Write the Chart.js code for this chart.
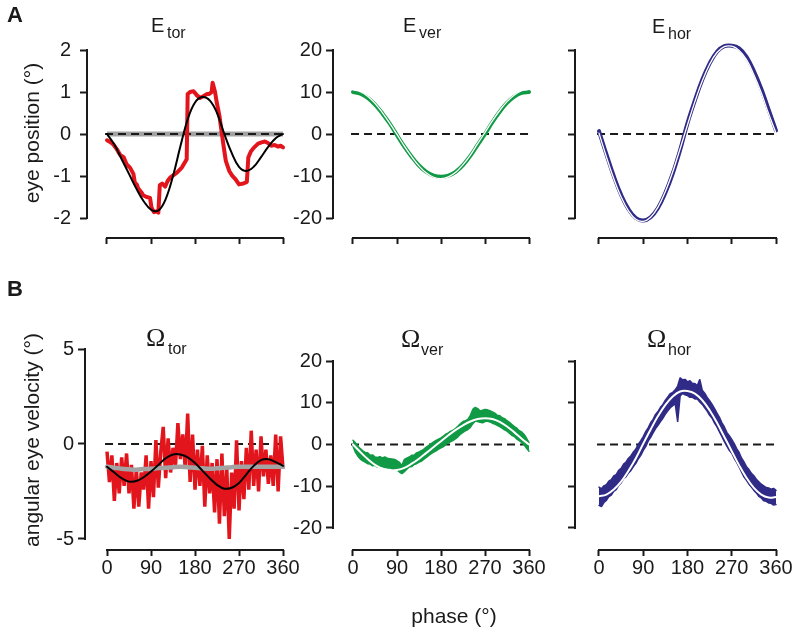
<!DOCTYPE html>
<html>
<head>
<meta charset="utf-8">
<script src="https://cdn.jsdelivr.net/npm/chart.js@4.4.1/dist/chart.umd.min.js"></script>
<style>
  body { margin: 0; background: #fff; }
  #fig { position: relative; width: 797px; height: 633px; overflow: hidden; font-family: "Liberation Sans", Arial, sans-serif; color: #1a1a1a; }
  #fig canvas { position: absolute; left: 0; top: 0; }
  .txt { position: absolute; line-height: 1; white-space: nowrap; }
</style>
</head>
<body>
<div id="fig"></div>
<script>
// ---- data ----
const xTicks = [0, 90, 180, 270, 360];
const zeroPhase = [-4, 366];
const zeroLine = [0, 0];
const grayPhase = [0, 360];
const grayA = [0, 0];

const fitPhase = [0, 15, 30, 45, 60, 75, 90, 105, 120, 135, 150, 165, 180, 195, 210, 225, 240, 255, 270, 285, 300, 315, 330, 345, 360];
const noisePhase = [0, 5, 10, 15, 20, 25, 30, 35, 40, 45, 50, 55, 60, 65, 70, 75, 80, 85, 90, 95, 100, 105, 110, 115, 120, 125, 130, 135, 140, 145, 150, 155, 160, 165, 170, 175, 180, 185, 190, 195, 200, 205, 210, 215, 220, 225, 230, 235, 240, 245, 250, 255, 260, 265, 270, 275, 280, 285, 290, 295, 300, 305, 310, 315, 320, 325, 330, 335, 340, 345, 350, 355, 360];

// A: eye position
const eTorPhase = [0, 8, 13, 20, 27, 34, 40, 47, 54, 57, 61, 64, 71, 74, 81, 88, 91, 96, 101, 105, 108, 113, 119, 124, 129, 136, 143, 148, 153, 160, 163, 165, 170, 177, 184, 190, 197, 204, 209, 214, 216, 221, 224, 230, 235, 239, 243, 250, 256, 263, 270, 279, 286, 289, 294, 300, 309, 316, 323, 330, 336, 343, 350, 355, 360];
const eTor = [-0.15, -0.2, -0.25, -0.36, -0.5, -0.55, -0.72, -0.8, -0.95, -1.16, -1.2, -1.3, -1.4, -1.46, -1.5, -1.52, -1.75, -1.86, -1.84, -1.87, -1.22, -1.18, -1.25, -1.12, -1.04, -0.98, -0.92, -0.86, -0.8, -0.66, -0.6, 0.95, 1.0, 1.02, 0.92, 0.86, 0.9, 0.95, 0.95, 1.0, 1.22, 1.0, 0.78, 0.43, 0.0, -0.33, -0.64, -0.88, -0.99, -1.08, -1.2, -1.18, -1.14, -0.56, -0.42, -0.33, -0.23, -0.2, -0.18, -0.22, -0.28, -0.26, -0.3, -0.28, -0.32];
const eTorFit = [0, -0.25, -0.6, -0.95, -1.3, -1.6, -1.8, -1.82, -1.55, -1.0, -0.3, 0.35, 0.75, 0.88, 0.8, 0.5, 0.0, -0.45, -0.78, -0.88, -0.78, -0.55, -0.3, -0.1, 0];
const eVer = [10.0, 9.6, 8.6, 7.0, 4.9, 2.5, -0.3, -3.0, -5.4, -7.5, -9.0, -9.9, -10.2, -9.9, -9.0, -7.4, -5.2, -2.6, 0.0, 2.8, 5.3, 7.4, 8.9, 9.8, 10.0];
const eVerFit = [10.5, 10.1, 9.0, 7.3, 5.1, 2.6, -0.1, -2.9, -5.4, -7.6, -9.3, -10.3, -10.6, -10.2, -9.1, -7.3, -5.0, -2.3, 0.4, 3.1, 5.6, 7.7, 9.3, 10.3, 10.6];
const eHor = [0.7, -4.8, -10.0, -14.5, -17.9, -20.0, -20.6, -19.8, -17.6, -14.0, -9.4, -3.8, 2.6, 8.0, 12.9, 16.8, 19.6, 20.9, 21.0, 20.4, 18.4, 15.0, 10.8, 5.8, 0.8];
const eHorFit = [0.2, -5.4, -10.6, -15.0, -18.3, -20.3, -20.8, -19.8, -17.4, -13.7, -9.0, -3.5, 2.2, 7.7, 12.6, 16.6, 19.4, 20.8, 20.9, 19.9, 17.7, 14.1, 9.8, 4.8, 0.2];

// B: angular eye velocity
const wTor = [-0.4, -2.0, -0.6, -3.0, -1.0, -2.6, -0.7, -2.2, -0.5, -2.6, -1.1, -3.4, -1.3, -3.3, -1.5, -2.4, -0.6, -3.4, -0.9, -2.8, 0.2, -2.3, -0.4, 0.9, -1.8, 0.3, -1.5, -0.2, -1.2, 1.1, -0.8, 0.5, -1.3, 1.6, -2.0, 0.5, -2.4, -0.3, -2.2, -0.1, -3.3, -0.6, -2.6, -1.0, -3.6, -0.8, -4.2, -0.5, -3.8, -1.3, -5.0, -1.5, -3.4, 0.2, -3.5, -0.9, -2.9, -0.2, -2.4, 0.7, -2.2, -0.3, -2.5, 0.4, -1.7, -0.3, -2.1, -0.6, -2.2, 0.5, -2.5, 0.4, -1.3];
const wTorGray = [-1.2, -1.25, -1.3, -1.33, -1.35, -1.32, -1.3, -1.27, -1.25, -1.22, -1.2, -1.22, -1.25, -1.28, -1.3, -1.28, -1.25, -1.22, -1.2, -1.2, -1.2, -1.2, -1.2, -1.2, -1.2];
const wTorFit = [-1.2, -1.5, -1.8, -1.98, -1.95, -1.75, -1.45, -1.1, -0.75, -0.55, -0.55, -0.7, -1.0, -1.4, -1.8, -2.15, -2.35, -2.3, -2.05, -1.6, -1.15, -0.85, -0.8, -0.95, -1.15];
// vertical and horizontal velocity: upper and lower edge of the noisy trace
const wVerHi = [1.0, 0.4, -0.4, -1.0, -1.5, -1.9, -2.0, -2.6, -2.5, -3.0, -3.1, -2.9, -3.2, -3.0, -3.3, -3.4, -3.5, -3.6, -3.9, -4.3, -5.0, -3.6, -3.3, -3.0, -2.6, -2.6, -2.0, -1.8, -1.5, -1.1, -0.6, -0.2, 0.2, 0.6, 1.0, 1.3, 1.6, 2.0, 2.5, 2.8, 3.2, 3.4, 3.9, 4.4, 5.0, 5.5, 5.7, 6.0, 7.0, 8.4, 8.9, 8.6, 8.0, 8.2, 8.4, 8.3, 8.1, 7.8, 7.5, 7.0, 6.9, 6.4, 6.2, 5.7, 5.3, 4.8, 4.3, 3.9, 3.3, 3.0, 2.4, 1.5, 0.4];
const wVerLo = [-0.4, -1.9, -2.8, -3.5, -3.9, -4.2, -4.6, -4.7, -5.1, -5.0, -5.4, -5.5, -5.3, -5.5, -5.6, -5.6, -5.8, -6.0, -6.1, -6.6, -7.0, -6.5, -5.9, -5.4, -5.3, -4.8, -4.6, -4.2, -4.0, -3.5, -3.1, -2.6, -2.2, -1.8, -1.5, -1.1, -0.8, -0.5, 0.0, 0.4, 0.7, 1.0, 1.4, 1.9, 2.5, 2.9, 3.3, 3.6, 4.1, 5.0, 5.6, 5.5, 5.3, 5.2, 5.5, 5.6, 5.4, 5.1, 4.9, 4.6, 4.3, 3.9, 3.5, 3.2, 2.7, 2.2, 1.9, 1.3, 0.9, 0.5, -0.1, -0.9, -1.6];
const wVerFit = [0, -1.8, -3.5, -4.9, -5.8, -6.2, -6.1, -5.6, -4.6, -3.4, -2.0, -0.6, 0.8, 2.2, 3.5, 4.6, 5.5, 6.1, 6.3, 6.1, 5.4, 4.3, 2.9, 1.4, 0];
const wHorHi = [-10.2, -10.6, -9.9, -9.6, -8.8, -8.4, -7.5, -7.2, -6.2, -5.7, -4.7, -4.2, -3.3, -2.7, -1.8, -1.1, 0.1, 0.9, 1.9, 3.1, 4.0, 5.2, 6.0, 7.2, 7.9, 8.9, 9.6, 10.6, 11.4, 12.2, 12.5, 13.1, 14.0, 16.0, 15.5, 15.6, 15.0, 15.3, 14.6, 14.6, 14.1, 15.6, 13.0, 12.3, 11.3, 10.5, 9.6, 8.6, 7.5, 6.5, 5.2, 4.2, 2.9, 2.1, 1.2, 0.2, -1.0, -1.9, -3.3, -4.2, -5.3, -6.0, -6.9, -7.5, -8.3, -8.9, -9.5, -9.9, -10.3, -10.4, -10.7, -10.5, -11.0];
const wHorLo = [-14.6, -14.9, -13.9, -13.4, -12.5, -12.1, -11.2, -10.8, -9.8, -9.2, -8.2, -7.7, -6.8, -6.2, -5.3, -4.5, -3.4, -2.6, -1.4, -0.5, 0.8, 1.7, 2.8, 3.8, 4.6, 5.5, 6.3, 7.3, 8.1, 8.8, 9.3, 9.8, 5.4, 11.6, 12.2, 11.9, 11.7, 11.3, 11.3, 10.9, 10.9, 10.2, 9.6, 8.8, 8.0, 7.0, 6.3, 5.1, 4.2, 3.0, 1.9, 0.7, -0.4, -1.4, -2.1, -3.3, -4.3, -5.4, -6.6, -7.8, -8.6, -9.5, -10.2, -11.0, -11.6, -12.4, -12.8, -13.5, -13.6, -14.0, -14.1, -14.5, -14.4];
const wHorFit = [-12.4, -12.0, -10.8, -8.9, -6.3, -3.3, 0.2, 3.6, 6.8, 9.5, 11.5, 12.7, 12.8, 12.2, 10.6, 8.2, 5.2, 1.8, -1.6, -5.0, -8.0, -10.4, -12.0, -12.7, -12.6];

const yTicksAtor = [2, 1, 0, -1, -2];
const yTicks20 = [20, 10, 0, -10, -20];
const yTicksBtor = [5, 0, -5];

const RED = '#e2151d', GREEN = '#119a45', NAVY = '#2f2b87', GRAY = '#a3a3a3', INK = '#1a1a1a';
const W = 797, H = 633;

function pts(xs, ys) { return xs.map((x, i) => ({x: x, y: ys[i]})); }

function line(xs, ys, color, width, extra) {
  return Object.assign({
    data: pts(xs, ys), borderColor: color, borderWidth: width, pointRadius: 0,
    borderJoinStyle: 'round', borderCapStyle: 'round', tension: 0, fill: false, clip: 10
  }, extra || {});
}
function noisy(xs, ys, color, width) { return line(xs, ys, color, width, {borderJoinStyle: 'bevel', borderCapStyle: 'butt'}); }
// noisy band: upper edge filled down to the lower edge
function band(xs, hi, lo, color) {
  return [
    line(xs, hi, color, 1.5, {borderJoinStyle: 'bevel', fill: '+1', backgroundColor: color}),
    line(xs, lo, color, 1.5, {borderJoinStyle: 'bevel'})
  ];
}
function zero() { return line(zeroPhase, zeroLine, INK, 2, {borderDash: [8, 5], borderCapStyle: 'butt'}); }

// axis lines only from first to last tick (offset-axis look)
const axisLines = {
  id: 'axisLines',
  afterDraw(chart, args, opts) {
    const {ctx, chartArea, scales} = chart;
    ctx.save();
    ctx.strokeStyle = INK;
    ctx.lineWidth = 2;
    ctx.beginPath();
    ctx.moveTo(scales.x.getPixelForValue(xTicks[0]) - 1, chartArea.bottom);
    ctx.lineTo(scales.x.getPixelForValue(xTicks[xTicks.length - 1]) + 1, chartArea.bottom);
    ctx.moveTo(chartArea.left, scales.y.getPixelForValue(opts.yTicks[0]) - 1);
    ctx.lineTo(chartArea.left, scales.y.getPixelForValue(opts.yTicks[opts.yTicks.length - 1]) + 1);
    ctx.stroke();
    ctx.restore();
  }
};

function panel(p) {
  const cv = document.createElement('canvas');
  cv.width = W; cv.height = H;
  document.getElementById('fig').appendChild(cv);
  const tickFont = {family: '"Liberation Sans", Arial, sans-serif', size: 20};
  new Chart(cv, {
    type: 'line',
    data: {datasets: p.datasets},
    options: {
      responsive: false, animation: false, events: [],
      layout: {padding: {left: 0, top: p.top, right: W - p.right, bottom: 0}},
      plugins: {legend: {display: false}, tooltip: {enabled: false}, axisLines: {yTicks: p.yTicks}},
      scales: {
        x: {
          type: 'linear', min: p.xMin, max: p.xMax,
          afterBuildTicks: s => { s.ticks = xTicks.map(v => ({value: v})); },
          afterFit: s => { s.height = H - p.bottom; },
          border: {display: false},
          grid: {drawOnChartArea: false, drawTicks: true, tickLength: 6, tickWidth: 2, tickColor: INK},
          ticks: {display: p.xLabels, autoSkip: false, maxRotation: 0, minRotation: 0, padding: 0,
                  font: tickFont, color: INK, callback: v => String(v)}
        },
        y: {
          type: 'linear', min: p.yMin, max: p.yMax,
          afterBuildTicks: s => { s.ticks = p.yTicks.map(v => ({value: v})); },
          afterFit: s => { s.width = p.left; },
          border: {display: false},
          grid: {drawOnChartArea: false, drawTicks: true, tickLength: 7, tickWidth: 2, tickColor: INK},
          ticks: {display: p.yLabels, autoSkip: false, padding: p.yPad, font: tickFont, color: INK, callback: v => String(v)}
        }
      }
    },
    plugins: [axisLines]
  });
}

// A row
panel({left: 87, top: 50, right: 295, bottom: 238, xMin: -40.9, xMax: 384.5, yMin: -2.476, yMax: 2,
  yTicks: yTicksAtor, yLabels: true, xLabels: false, yPad: 9,
  datasets: [
    line(fitPhase, eTorFit, '#000', 2, {tension: 0.4}),
    line(eTorPhase, eTor, RED, 4),
    zero(),
    line(grayPhase, grayA, GRAY, 5, {borderCapStyle: 'butt'})
  ]});
panel({left: 333, top: 50, right: 541, bottom: 238, xMin: -40.9, xMax: 384.5, yMin: -24.76, yMax: 20,
  yTicks: yTicks20, yLabels: true, xLabels: false, yPad: 4,
  datasets: [
    line(fitPhase, eVerFit, '#ffffff', 1.3, {tension: 0.4}),
    line(fitPhase, eVer, GREEN, 4, {tension: 0.4}),
    zero()
  ]});
panel({left: 575, top: 50, right: 785, bottom: 238, xMin: -48.8, xMax: 378.3, yMin: -24.76, yMax: 20,
  yTicks: yTicks20, yLabels: false, xLabels: false, yPad: 4,
  datasets: [
    line(fitPhase, eHorFit, '#ffffff', 1.3, {tension: 0.4}),
    line(fitPhase, eHor, NAVY, 4, {tension: 0.4}),
    zero()
  ]});

// B row
panel({left: 85, top: 349, right: 295, bottom: 550, xMin: -45, xMax: 384.5, yMin: -5.579, yMax: 5,
  yTicks: yTicksBtor, yLabels: true, xLabels: true, yPad: 4,
  datasets: [
    line(fitPhase, wTorFit, '#000', 2, {tension: 0.4}),
    line(fitPhase, wTorGray, GRAY, 4.5, {tension: 0.4}),
    noisy(noisePhase, wTor, RED, 3.5),
    zero()
  ]});
panel({left: 333, top: 361, right: 541, bottom: 550, xMin: -40.9, xMax: 384.5, yMin: -25.27, yMax: 20,
  yTicks: yTicks20, yLabels: true, xLabels: true, yPad: 4,
  datasets: [line(fitPhase, wVerFit, '#ffffff', 2, {tension: 0.4})]
    .concat(band(noisePhase, wVerHi, wVerLo, GREEN), [zero()])
});
panel({left: 575, top: 361, right: 785, bottom: 550, xMin: -48.8, xMax: 378.3, yMin: -25.27, yMax: 20,
  yTicks: yTicks20, yLabels: false, xLabels: true, yPad: 4,
  datasets: [line(fitPhase, wHorFit, '#ffffff', 2, {tension: 0.4})]
    .concat(band(noisePhase, wHorHi, wHorLo, NAVY), [zero()])
});

// ---- text ----
function text(str, left, baseline, size, opts) {
  opts = opts || {};
  const d = document.createElement('div');
  d.className = 'txt';
  d.textContent = str;
  const serif = opts.serif;
  d.style.fontFamily = serif ? '"Liberation Serif", "Times New Roman", serif' : '"Liberation Sans", Arial, sans-serif';
  d.style.fontSize = size + 'px';
  if (opts.bold) d.style.fontWeight = 'bold';
  const k = serif ? 0.8375 : 0.8465;
  d.style.top = (baseline - k * size) + 'px';
  d.style.left = left + 'px';
  if (opts.center) d.style.transform = 'translateX(-50%)';
  document.getElementById('fig').appendChild(d);
  return d;
}
function vtext(str, cx, cy, size) {
  const d = document.createElement('div');
  d.className = 'txt';
  d.textContent = str;
  d.style.fontSize = size + 'px';
  d.style.left = cx + 'px';
  d.style.top = cy + 'px';
  d.style.transform = 'translate(-50%, -50%) rotate(-90deg)';
  document.getElementById('fig').appendChild(d);
}

text('A', 7, 23, 22, {bold: true});
text('B', 7, 297, 22, {bold: true});

text('E', 151, 32, 20); text('tor', 167, 39, 16);
text('E', 403, 32, 20); text('ver', 419, 39, 16);
text('E', 652, 33, 20); text('hor', 668, 40, 16);
text('\u03A9', 146, 347, 26, {serif: true}); text('tor', 168, 355, 16);
text('\u03A9', 401, 348, 26, {serif: true}); text('ver', 421, 356, 16);
text('\u03A9', 647, 348, 26, {serif: true}); text('hor', 668, 356, 16);

vtext('eye position (\u00B0)', 31, 133, 21);
vtext('angular eye velocity (\u00B0)', 31, 440, 21);
text('phase (\u00B0)', 454, 623, 21, {center: true});
</script>
</body>
</html>
